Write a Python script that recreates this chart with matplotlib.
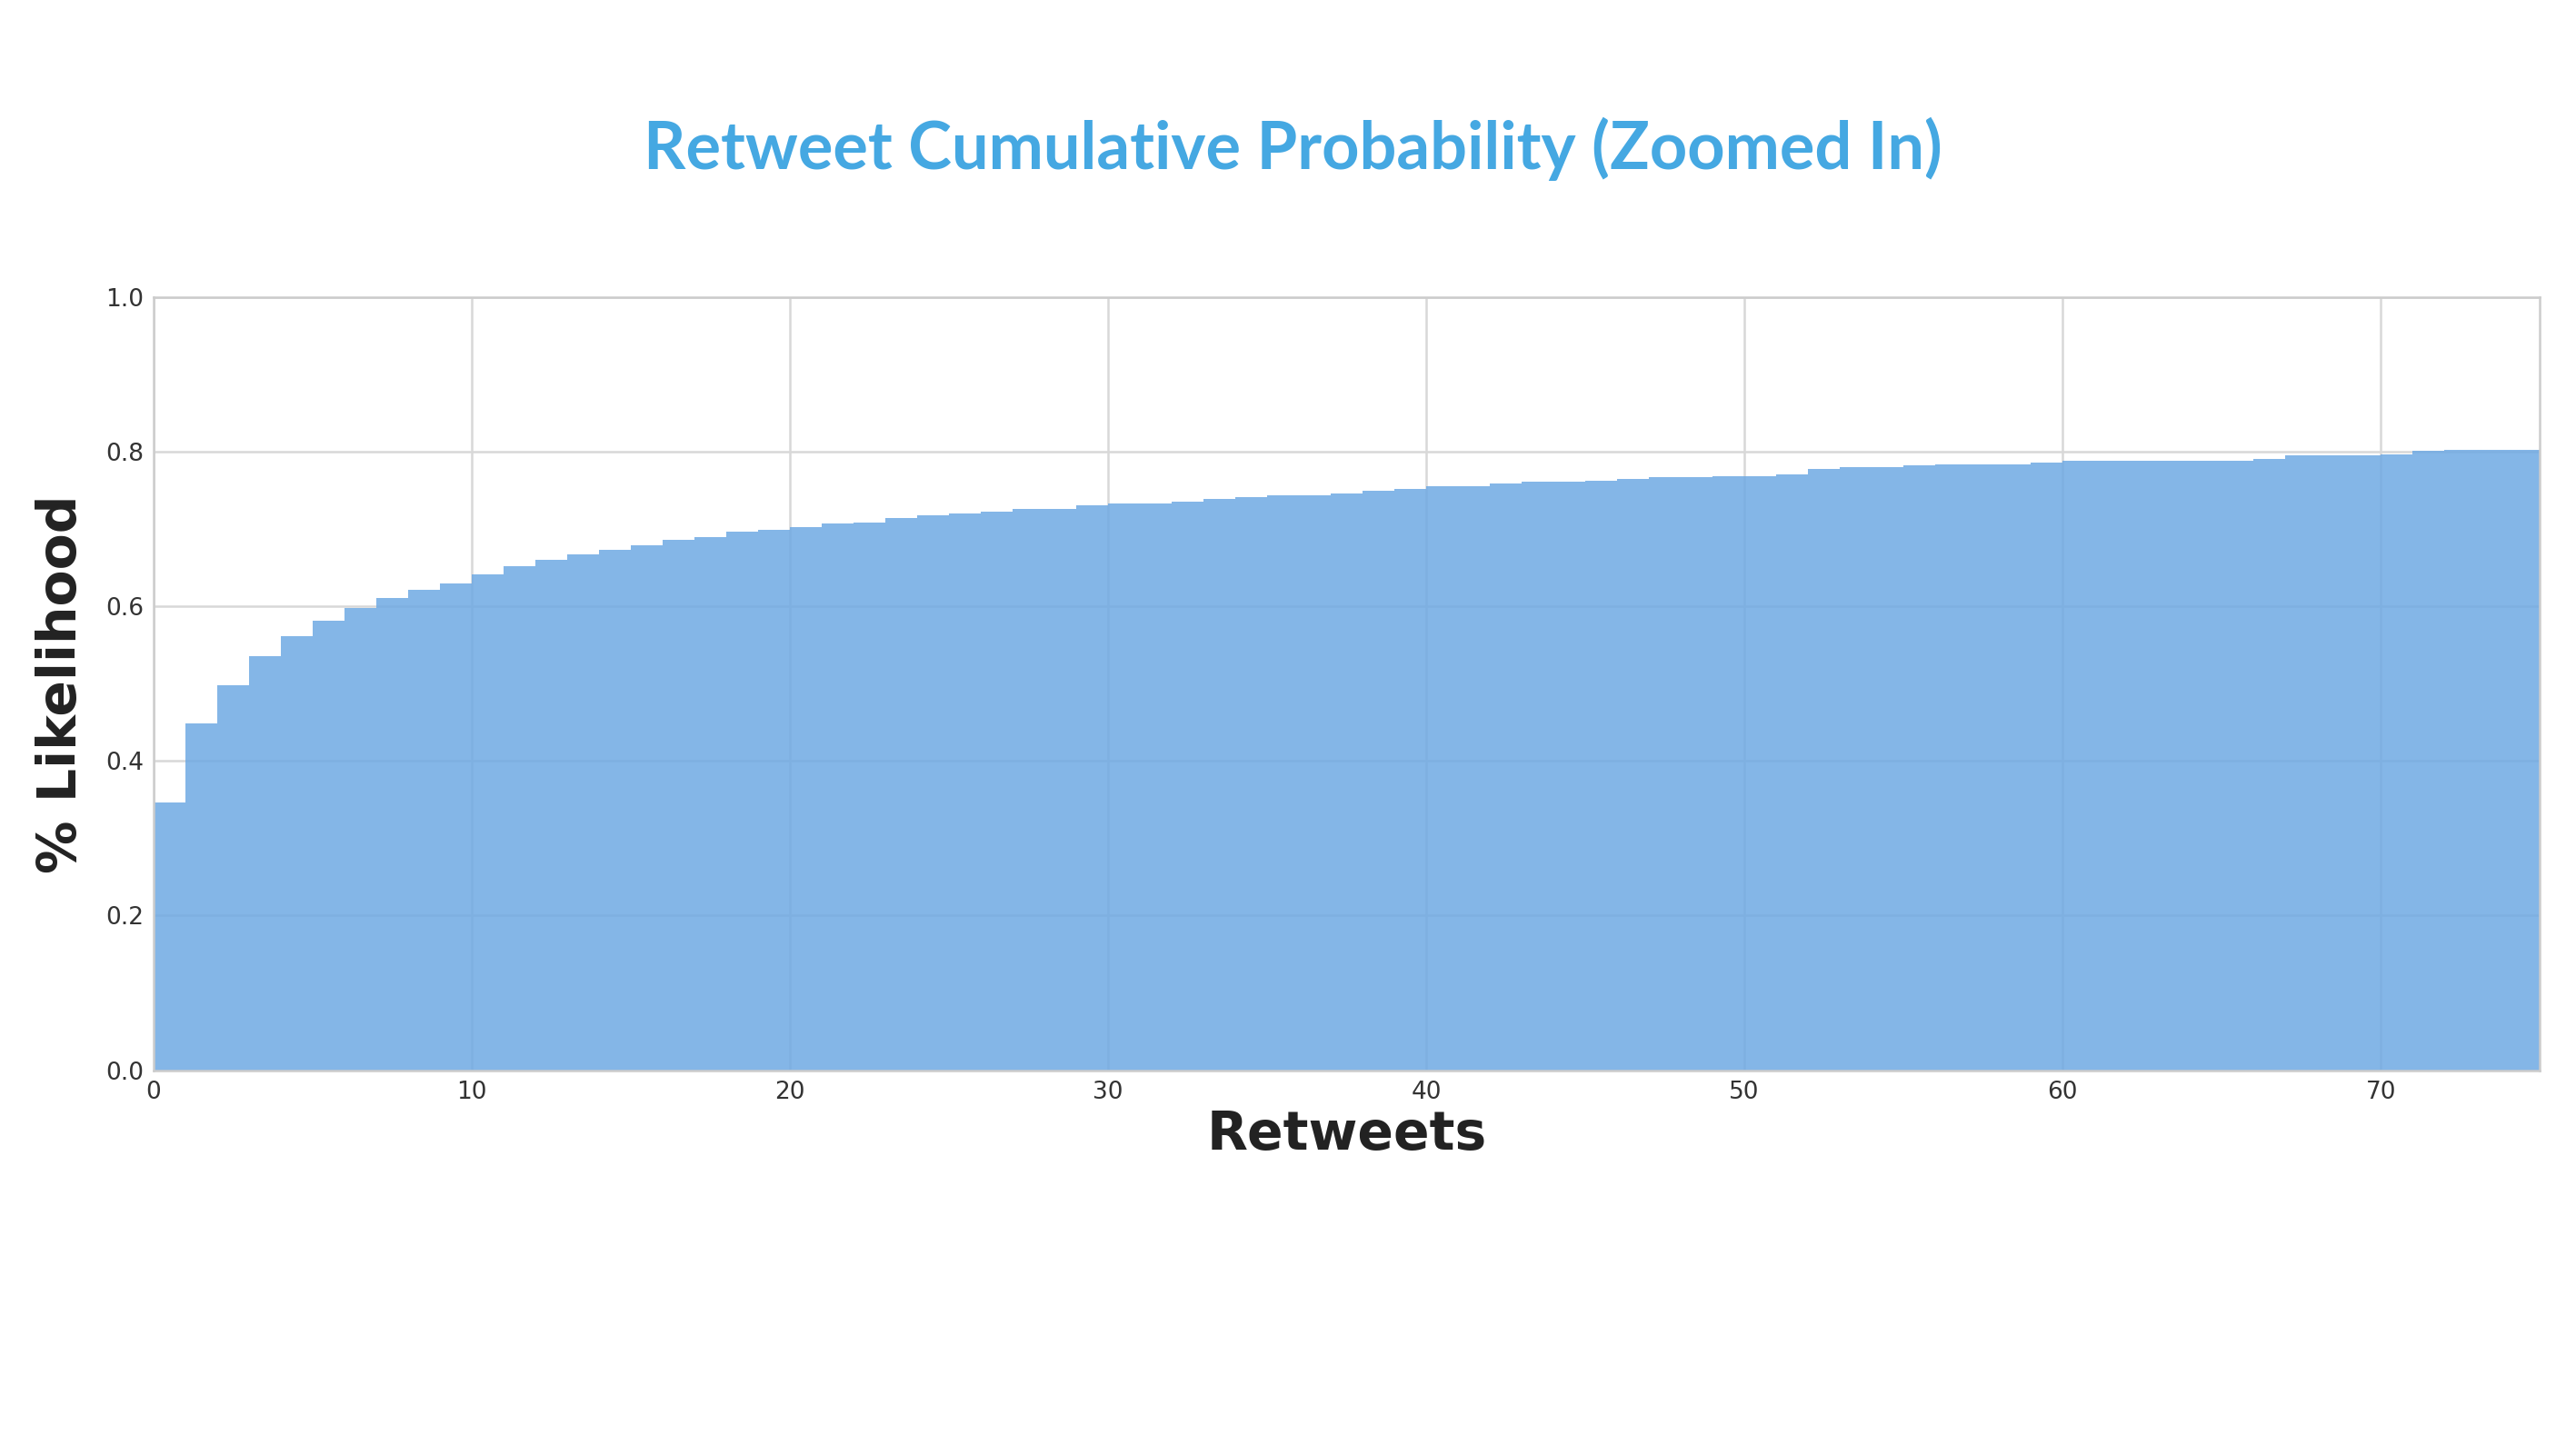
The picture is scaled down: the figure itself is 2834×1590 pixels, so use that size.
import numpy as np
import matplotlib.pyplot as plt

# cumulative probability per retweet count bin
retweets = np.arange(0, 76)
likelihood = [0.346, 0.449, 0.498, 0.536, 0.562, 0.581, 0.598, 0.611, 0.622, 0.630,
              0.641, 0.652, 0.660, 0.667, 0.673, 0.679, 0.686, 0.690, 0.697, 0.699,
              0.703, 0.707, 0.709, 0.714, 0.718, 0.720, 0.722, 0.726, 0.726, 0.731,
              0.733, 0.733, 0.735, 0.739, 0.741, 0.744, 0.744, 0.746, 0.750, 0.752,
              0.756, 0.756, 0.759, 0.761, 0.761, 0.763, 0.765, 0.767, 0.767, 0.769,
              0.769, 0.771, 0.778, 0.780, 0.780, 0.782, 0.784, 0.784, 0.784, 0.786,
              0.788, 0.788, 0.788, 0.788, 0.788, 0.788, 0.791, 0.795, 0.795, 0.795,
              0.797, 0.801, 0.803, 0.803, 0.803]

fig = plt.figure(figsize=(28.34, 15.9), dpi=100)
ax = fig.add_axes([0.0596, 0.2594, 0.9264, 0.5349])
ax.stairs(likelihood, retweets, fill=True, color='#6fa9e3', alpha=0.85, zorder=2)
ax.set_xlim(0, 75)
ax.set_ylim(0, 1.0)
ax.set_xticks(range(0, 80, 10))
ax.set_yticks(np.arange(0, 1.01, 0.2))
ax.yaxis.set_major_formatter(plt.FormatStrFormatter('%.1f'))
ax.grid(True, color='#d8d8d8', linewidth=1.8, zorder=1)
ax.set_axisbelow(True)
for s in ax.spines.values():
    s.set_color('#cccccc')
    s.set_linewidth(1.8)
ax.tick_params(length=0, labelsize=19, colors='#333333', pad=8)
ax.set_xlabel('Retweets', fontsize=42, fontweight='bold', color='#222222', labelpad=4)
ax.set_ylabel('% Likelihood', fontsize=42, fontweight='bold', color='#222222', labelpad=14)

fig.text(0.502, 0.897, 'Retweet Cumulative Probability (Zoomed In)', family=['Lato', 'DejaVu Sans'],
         fontsize=52, fontweight='bold', color='#45a8e2', ha='center', va='center')

fig.savefig('out.png', dpi=100)
